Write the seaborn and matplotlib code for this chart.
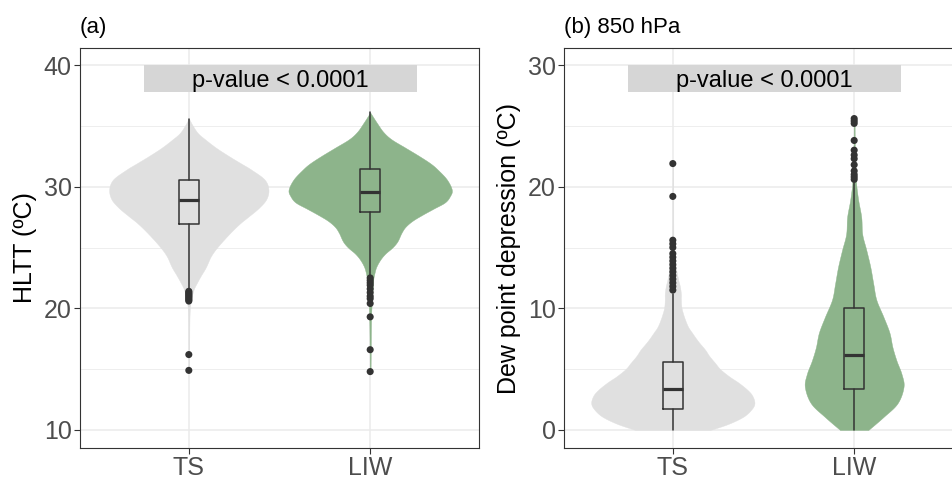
import numpy as np
import matplotlib
matplotlib.use("Agg")
import matplotlib.pyplot as plt
from matplotlib.patches import Rectangle
import seaborn as sns
import pandas as pd

sns.set_theme(style="white")
plt.rcParams['font.family'] = ['Liberation Sans', 'DejaVu Sans']

categories = ["TS", "LIW"]
violin_colors = ["#E0E0E0", "#8DB48B"]

# ---------- Panel (a): HLTT ----------
hltt_ts_y = [35.6, 35.0, 34.4, 33.9, 33.2, 32.5, 31.9, 31.4, 30.6, 29.8, 29.0, 28.3, 27.6,
             27.0, 26.2, 25.1, 24.3, 23.4, 22.7, 22.1, 21.6, 21.0, 20.4, 19.0, 14.9]
hltt_ts_dens = [0, 4, 9, 16, 27, 40, 52, 62, 75, 79, 77, 70, 60,
                51, 41, 29, 22, 17, 12, 8, 5, 3, 1.5, 0.6, 0.4]
hltt_liw_y = [36.1, 35.2, 34.5, 33.9, 33.2, 32.5, 31.9, 31.4, 30.6, 29.75, 29.2, 28.7, 28.2,
              27.7, 27.2, 26.7, 26.2, 25.5, 25.0, 24.5, 24.0, 23.4, 22.8, 22.3, 21.0, 19.5, 17.0, 14.8]
hltt_liw_dens = [0, 7, 13, 21, 35, 49, 60, 67, 76, 81, 79, 74, 63,
                 52, 42, 35, 31, 27, 22, 15, 10, 6, 4, 3, 2, 1, 0.6, 0.4]
hltt_box_med = [28.93, 29.6]
hltt_box_q1 = [26.9, 27.9]
hltt_box_q3 = [30.57, 31.45]
hltt_box_lo = [21.6, 22.6]
hltt_box_hi = [35.6, 36.1]
hltt_ts_fliers = [21.4, 21.3, 21.2, 21.1, 21.0, 20.9, 20.8, 20.7, 20.6, 16.2, 14.9]
hltt_liw_fliers = [22.5, 22.3, 22.1, 21.9, 21.6, 21.3, 21.0, 20.8, 20.4, 19.3, 16.6, 14.8]

# ---------- Panel (b): Dew point depression 850 hPa ----------
dpd_ts_y = [0, 0.5, 1.1, 1.7, 2.2, 2.8, 3.3, 3.9, 4.4, 5.0, 5.5, 6.1, 6.6, 7.3, 8.0, 8.5,
            9.1, 9.6, 10.1, 10.7, 11.2, 11.8, 12.3, 12.9, 13.4, 14.0, 14.5, 15.5, 17.0,
            19.2, 20.5, 21.9]
dpd_ts_dens = [37, 55, 70, 78, 81, 79, 74, 65, 56, 47, 42, 36, 32, 25, 19, 15,
               12, 10, 8.5, 8, 8, 7, 5.5, 4, 3, 2, 1.2, 0.7, 0.5, 0.5, 0.4, 0.3]
dpd_liw_y = [0, 1.07, 2.2, 3.55, 4.6, 5.7, 6.8, 8.0, 9.3, 10.7, 12.0, 13.4, 14.8, 16.1,
             17.5, 18.9, 20.2, 21.5, 23.0, 25.6]
dpd_liw_dens = [14, 29, 43, 49, 47, 42, 38, 35, 29, 22, 19, 16, 12, 8,
                7, 4, 2, 1, 0.6, 0.4]
dpd_box_med = [3.35, 6.15]
dpd_box_q1 = [1.7, 3.4]
dpd_box_q3 = [5.6, 10.0]
dpd_box_lo = [0.0, 0.0]
dpd_box_hi = [11.2, 20.3]
dpd_ts_fliers = [11.5, 11.8, 12.1, 12.4, 12.7, 13.0, 13.3, 13.6, 13.9, 14.2, 14.5,
                 15.0, 15.3, 15.6, 19.2, 21.9]
dpd_liw_fliers = [20.6, 20.8, 21.0, 21.3, 21.8, 22.3, 22.6, 23.0, 23.8, 25.2, 25.4, 25.6]

pvalue_text = "p-value < 0.0001"

W, H = 952, 480
fig = plt.figure(figsize=(W / 100, H / 100), dpi=100)
ax_a = fig.add_axes([80 / W, 32 / H, 399 / W, 400 / H])
ax_b = fig.add_axes([564 / W, 32 / H, 399 / W, 400 / H])

TXT = "#4D4D4D"
LINE = "#333333"


def smooth_outline(ys, ds, n=12):
    """Catmull-Rom rendering of the read outline (for a smooth edge only)."""
    p = np.column_stack([ys, ds]).astype(float)
    p = np.vstack([p[0], p, p[-1]])
    out = []
    t = np.linspace(0, 1, n, endpoint=False)[:, None]
    for i in range(1, len(p) - 2):
        p0, p1, p2, p3 = p[i - 1], p[i], p[i + 1], p[i + 2]
        seg = 0.5 * ((2 * p1) + (-p0 + p2) * t + (2 * p0 - 5 * p1 + 4 * p2 - p3) * t ** 2
                     + (-p0 + 3 * p1 - 3 * p2 + p3) * t ** 3)
        out.append(seg)
    out.append(p[-2][None, :])
    out = np.vstack(out)
    out[:, 1] = np.clip(out[:, 1], 0, None)
    return out[:, 0], out[:, 1]


def draw_panel(ax, violins, meds, q1s, q3s, los, his, fliers, ylim, yticks, minors,
               ylabel, title, box_y):
    maxd = max(max(d) for _, d in violins)
    for i, ((ys, ds), col) in enumerate(zip(violins, violin_colors)):
        sy, sd = smooth_outline(ys, ds)
        hw = sd / maxd * 0.45
        ax.fill_betweenx(sy, i - hw, i + hw, color=col, lw=0.3, edgecolor=col, zorder=2)
    stats = []
    for i in range(2):
        stats.append(dict(med=meds[i], q1=q1s[i], q3=q3s[i], whislo=los[i],
                          whishi=his[i], fliers=[]))
    ax.bxp(stats, positions=[0, 1], widths=0.11, showfliers=False, showcaps=False,
           patch_artist=False,
           boxprops=dict(color=LINE, lw=1.1),
           whiskerprops=dict(color=LINE, lw=1.1),
           medianprops=dict(color=LINE, lw=2.3, solid_capstyle='butt'),
           zorder=3)
    fdf = pd.DataFrame({
        "x": [0] * len(fliers[0]) + [1] * len(fliers[1]),
        "y": list(fliers[0]) + list(fliers[1]),
    })
    sns.scatterplot(data=fdf, x="x", y="y", color=LINE, s=26, edgecolor="none",
                    ax=ax, zorder=4, legend=False)

    ax.set_xlim(-0.6, 1.6)
    ax.set_ylim(*ylim)
    ax.set_xticks([0, 1])
    ax.set_xticklabels(categories)
    ax.set_yticks(yticks)
    ax.set_yticklabels([str(t) for t in yticks])
    ax.set_yticks(minors, minor=True)
    ax.set_xlabel("")
    ax.set_ylabel("")
    ax.grid(which="major", color="#EBEBEB", lw=1.1, zorder=0)
    ax.grid(which="minor", axis="y", color="#EBEBEB", lw=0.6, zorder=0)
    ax.set_axisbelow(True)
    ax.tick_params(axis="both", which="major", labelsize=18, labelcolor=TXT,
                   color=LINE, length=4, width=0.8, pad=2, left=True, bottom=True)
    ax.tick_params(axis="both", which="minor", length=0)
    for sp in ax.spines.values():
        sp.set_color(LINE)
        sp.set_linewidth(0.8)
    ax.set_facecolor("white")

    # p-value banner
    ax.add_patch(Rectangle((-0.246, box_y - 2.2), 1.502, 2.2, facecolor="#D6D6D6",
                           edgecolor="none", zorder=5))
    ax.text(0.505, box_y - 1.8, pvalue_text, ha="center", va="baseline",
            fontsize=17, color="black", zorder=6)

    ax.text(-0.138, 0.5, ylabel, transform=ax.transAxes, rotation=90,
            ha="center", va="center", fontsize=18, color="black")
    ax.text(0.0, 1.0 + 21 / 400, title, transform=ax.transAxes, ha="left",
            va="center", fontsize=16, color="black")


draw_panel(ax_a,
           [(hltt_ts_y, hltt_ts_dens), (hltt_liw_y, hltt_liw_dens)],
           hltt_box_med, hltt_box_q1, hltt_box_q3, hltt_box_lo, hltt_box_hi,
           [hltt_ts_fliers, hltt_liw_fliers],
           (8.52, 41.4), [10, 20, 30, 40], [15, 25, 35],
           "HLTT (ºC)", "(a)", 40.0)

draw_panel(ax_b,
           [(dpd_ts_y, dpd_ts_dens), (dpd_liw_y, dpd_liw_dens)],
           dpd_box_med, dpd_box_q1, dpd_box_q3, dpd_box_lo, dpd_box_hi,
           [dpd_ts_fliers, dpd_liw_fliers],
           (-1.48, 31.4), [0, 10, 20, 30], [5, 15, 25],
           "Dew point depression (ºC)", "(b) 850 hPa", 30.0)

fig.savefig("out.png", dpi=100, facecolor="white")
